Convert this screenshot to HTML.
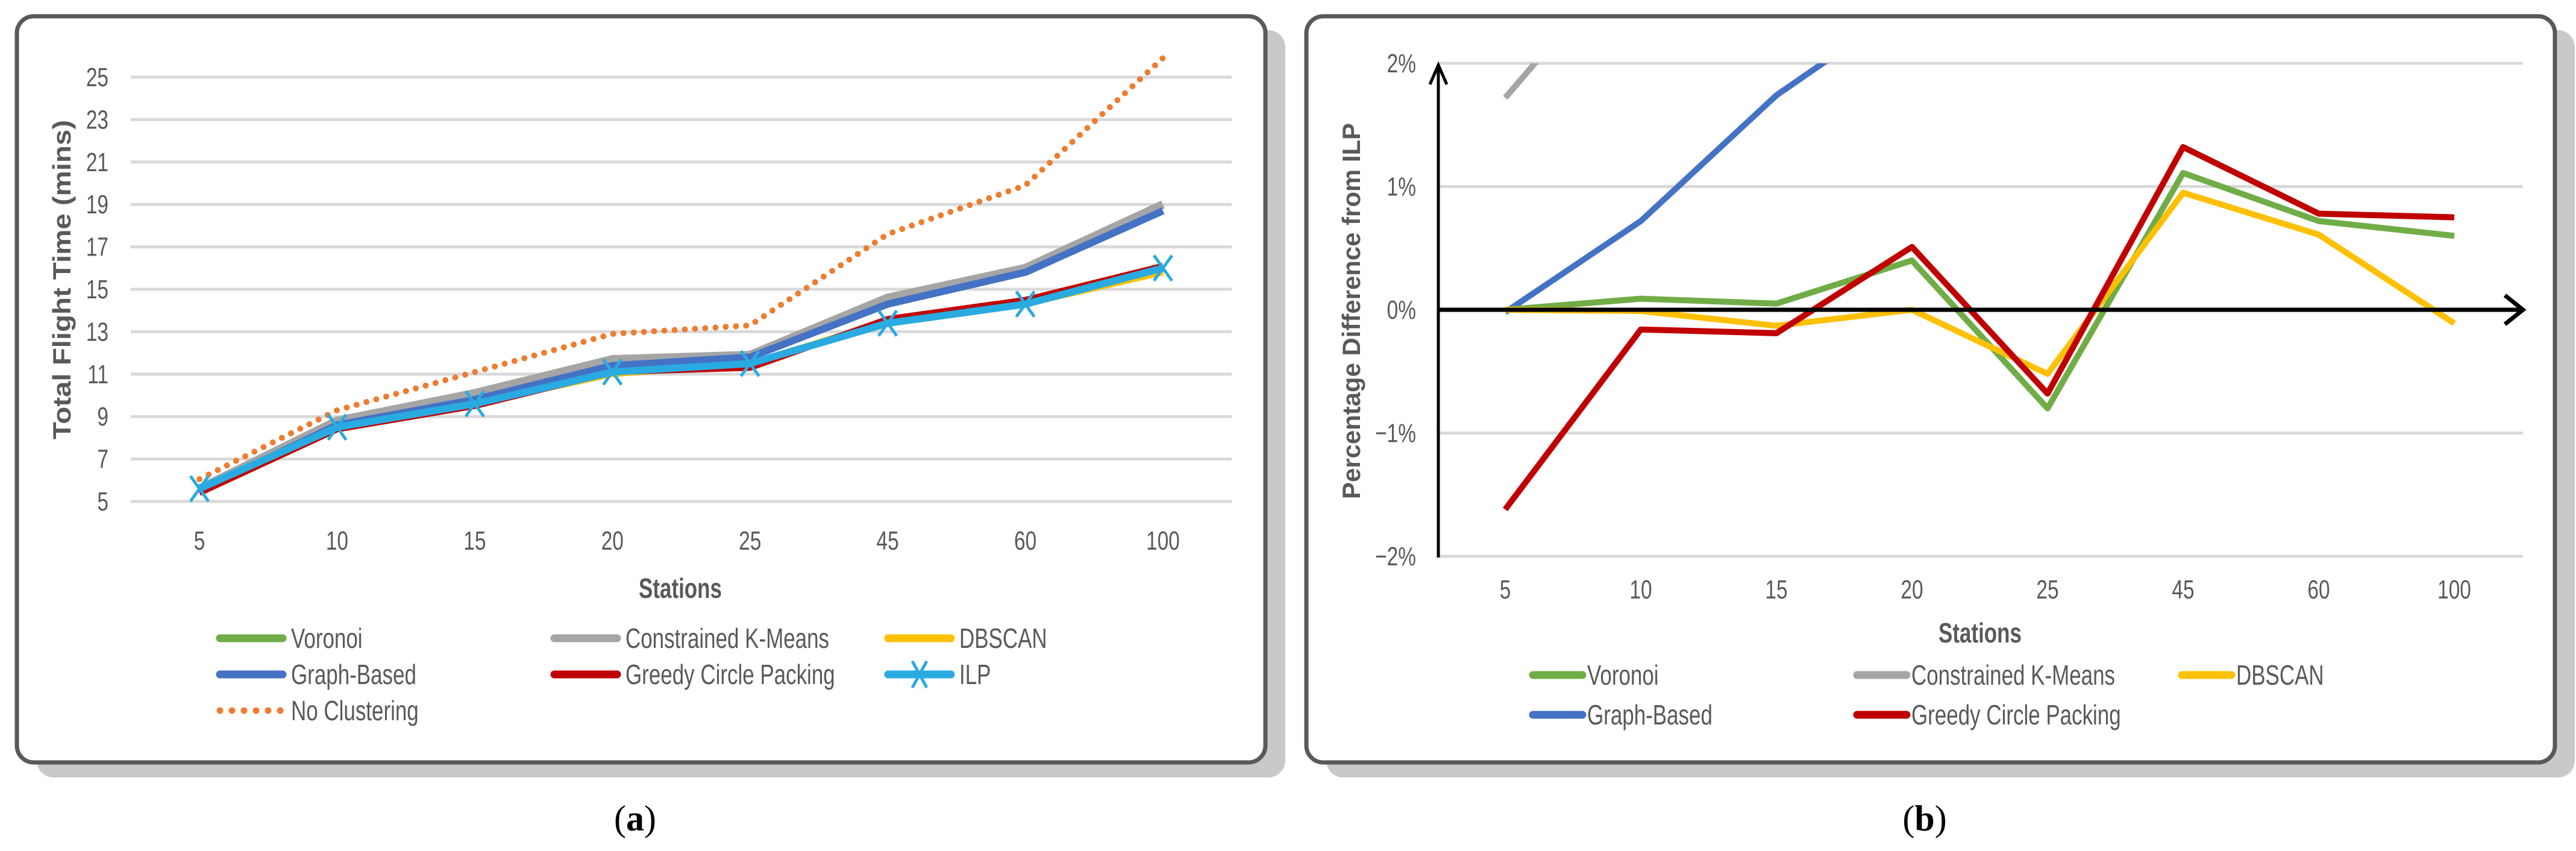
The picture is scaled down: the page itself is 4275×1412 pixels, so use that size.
<!DOCTYPE html>
<html><head><meta charset="utf-8">
<style>
html,body{margin:0;padding:0;background:#fff;}
svg{display:block;}
text{font-family:"Liberation Sans Narrow","Liberation Sans",sans-serif;fill:#595959;}
.tick{font-size:44px;}
.leg{font-size:46px;}
.ttl{font-size:46px;font-weight:bold;}
.ytl{font-family:"Liberation Sans",sans-serif;font-size:42px;font-weight:bold;}
.cap{font-family:"Liberation Serif",serif;font-size:60px;fill:#000;}
</style></head>
<body>
<svg id="fig" width="4275" height="1412" viewBox="0 0 4275 1412" xmlns="http://www.w3.org/2000/svg">
<defs>
<clipPath id="clipA"><rect x="217" y="60" width="1827" height="800"/></clipPath>
<clipPath id="clipB"><rect x="2387" y="105" width="1800" height="818"/></clipPath>
</defs>
<rect x="61" y="50" width="2072" height="1240" rx="28" fill="#c9c9cb"/>
<rect x="28" y="27" width="2072" height="1238" rx="28" fill="#fff" stroke="#595959" stroke-width="7"/>
<rect x="2201" y="50" width="2072" height="1240" rx="28" fill="#c9c9cb"/>
<rect x="2168" y="27" width="2072" height="1238" rx="28" fill="#fff" stroke="#595959" stroke-width="7"/>
<g id="A"></g>
<g id="B"></g>
<text class="cap" x="1054" y="1378" text-anchor="middle">(<tspan font-weight="bold">a</tspan>)</text>
<text class="cap" x="3194" y="1378" text-anchor="middle">(<tspan font-weight="bold">b</tspan>)</text>
</svg>
<script>
const categories = ["5","10","15","20","25","45","60","100"];
// Panel (a) total flight time (mins)
const aVoronoi = [5.6,8.5,9.6,11.1,11.5,13.5,14.4,15.9];
const aKMeans = [5.6,8.8,10.1,11.7,11.9,14.6,16.0,19.0];
const aDBSCAN = [5.6,8.5,9.6,11.0,11.5,13.5,14.3,15.8];
const aGraph = [5.5,8.6,9.8,11.4,11.8,14.3,15.8,18.7];
const aGreedy = [5.4,8.4,9.5,11.1,11.3,13.6,14.5,16.1];
const aILP = [5.6,8.5,9.6,11.1,11.5,13.4,14.3,16.0];
const aNoClust = [6.05,9.3,11.1,12.9,13.3,17.6,19.9,25.9];
const aTicks = [5,7,9,11,13,15,17,19,21,23,25];
// Panel (b) percentage difference from ILP
const bVoronoi = [0,0.09,0.05,0.4,-0.8,1.11,0.72,0.6];
const bKMeans = [1.72,3.0,4.0,5.0,3.0,9.0,12.0,19.0];
const bDBSCAN = [0,-0.01,-0.13,0,-0.52,0.95,0.61,-0.11];
const bGraph = [-0.02,0.72,1.74,2.5,2.6,6.7,10.5,16.9];
const bGreedy = [-1.62,-0.16,-0.19,0.51,-0.68,1.32,0.78,0.75];
const bTicks = [-2,-1,0,1,2];

const NS="http://www.w3.org/2000/svg";
const SX=0.76;
function mk(parent,tag,attrs,txt){const e=document.createElementNS(NS,tag);for(const k in attrs)e.setAttribute(k,attrs[k]);if(txt!==undefined)e.textContent=txt;parent.appendChild(e);return e;}
function ntext(parent,cls,x,y,anchor,s){
  return mk(parent,'text',{class:cls,x:0,y:0,'text-anchor':anchor,transform:`translate(${x},${y}) scale(${SX},1)`},s);
}

// ---------- Panel A ----------
const A=document.getElementById('A');
const axL=217, axR=2044, x0A=331, dxA=(1930-331)/7;
const xA=i=>x0A+i*dxA;
const yA=v=>832-(v-5)*35.2;
aTicks.forEach(t=>{
  const g=mk(A,'line',{x1:axL,x2:axR,y1:yA(t),y2:yA(t),stroke:'#d9d9d9','stroke-width':5});
  
  
  const l=ntext(A,'tick',180,yA(t)+15,'end',String(t));
  
  
});
categories.forEach((c,i)=>{
  const l=ntext(A,'tick',xA(i),912,'middle',c);
  
  
});
const plotA=mk(A,'g',{'clip-path':'url(#clipA)'});


function lineA(vals,color,w,name,extra){
  const p=mk(plotA,'polyline',Object.assign({points:vals.map((v,i)=>xA(i)+','+yA(v)).join(' '),fill:'none',stroke:color,'stroke-width':w,'stroke-linejoin':'round'},extra||{}));
  
  
  return p;
}
lineA(aNoClust,'#ed7d31',10,'series-no-clustering',{'stroke-dasharray':'0 17','stroke-linecap':'round'});
lineA(aKMeans,'#a5a5a5',14,'series-constrained-kmeans');
lineA(aGraph,'#4472c4',12,'series-graph-based');
lineA(aVoronoi,'#70ad47',10,'series-voronoi');
lineA(aDBSCAN,'#ffc000',10,'series-dbscan');
lineA(aGreedy,'#c00000',10,'series-greedy');
lineA(aILP,'#29abe2',12,'series-ilp');
aILP.forEach((v,i)=>{
  const cx=xA(i),cy=yA(v),s=15;
  const m=mk(plotA,'path',{d:`M${cx-s} ${cy-s*1.4}L${cx+s} ${cy+s*1.4}M${cx+s} ${cy-s*1.4}L${cx-s} ${cy+s*1.4}`,stroke:'#29abe2','stroke-width':5,fill:'none'});
  
  
});
const tA=ntext(A,'ttl',1129,992,'middle','Stations');


mk(A,'text',{class:'ytl',x:0,y:0,'text-anchor':'middle',textLength:530,lengthAdjust:'spacingAndGlyphs',transform:'translate(117,464) rotate(-90)',},'Total Flight Time (mins)');

const legA=[["Voronoi","#70ad47",359,1059],["Constrained K-Means","#a5a5a5",914,1059],["DBSCAN","#ffc000",1468,1059],
["Graph-Based","#4472c4",359,1119],["Greedy Circle Packing","#c00000",914,1119],["ILP","#29abe2",1468,1119],["No Clustering","#ed7d31",359,1179]];
legA.forEach(([n,c,x,y])=>{
  const g=mk(A,'g',{});
  
  
  if(n==='No Clustering') mk(g,'line',{x1:x+6,x2:x+112,y1:y,y2:y,stroke:c,'stroke-width':11,'stroke-linecap':'round','stroke-dasharray':'0 20'});
  else mk(g,'line',{x1:x+6,x2:x+110,y1:y,y2:y,stroke:c,'stroke-width':13,'stroke-linecap':'round'});
  if(n==='ILP'){mk(g,'path',{d:`M${x+46} ${y-22}L${x+70} ${y+22}M${x+70} ${y-22}L${x+46} ${y+22}`,stroke:c,'stroke-width':5});}
  ntext(g,'leg',x+124,y+16,'start',n);
});

// ---------- Panel B ----------
const B=document.getElementById('B');
const bL=2387,bR=4187,x0B=2498,dxB=(4073-2498)/7;
const xB=i=>x0B+i*dxB;
const yB=v=>514-v*204.5;
bTicks.forEach(t=>{
  if(t!==0){const g=mk(B,'line',{x1:bL,x2:bR,y1:yB(t),y2:yB(t),stroke:'#d9d9d9','stroke-width':5});
  
  }
  const l=ntext(B,'tick',2350,yB(t)+15,'end',(t<0?'\u2212':'')+Math.abs(t)+'%');
  
  
});
categories.forEach((c,i)=>{
  const l=ntext(B,'tick',xB(i),993,'middle',c);
  
  
});
const plotB=mk(B,'g',{'clip-path':'url(#clipB)'});


function lineB(vals,color,name){
  const p=mk(plotB,'polyline',{points:vals.map((v,i)=>xB(i)+','+yB(v)).join(' '),fill:'none',stroke:color,'stroke-width':10,'stroke-linejoin':'round'});
  
  
}
lineB(bKMeans,'#a5a5a5','series-b-constrained-kmeans');
lineB(bGraph,'#4472c4','series-b-graph-based');
lineB(bVoronoi,'#70ad47','series-b-voronoi');
lineB(bDBSCAN,'#ffc000','series-b-dbscan');
lineB(bGreedy,'#c00000','series-b-greedy');
mk(B,'path',{d:`M${bL} 925 L${bL} 108 M${bL-14} 140 L${bL} 108 L${bL+14} 140`,stroke:'#000','stroke-width':5,fill:'none',});
mk(B,'path',{d:`M${bL} ${yB(0)} L${bR} ${yB(0)} M${bR-30} ${yB(0)-24} L${bR} ${yB(0)} L${bR-30} ${yB(0)+24}`,stroke:'#000','stroke-width':7,fill:'none',});
const tB=ntext(B,'ttl',3286,1066,'middle','Stations');


mk(B,'text',{class:'ytl',x:0,y:0,'text-anchor':'middle',textLength:624,lengthAdjust:'spacingAndGlyphs',transform:'translate(2257,516) rotate(-90)',},'Percentage Difference from ILP');
const legB=[["Voronoi","#70ad47",2538,1120],["Constrained K-Means","#a5a5a5",3076,1120],["DBSCAN","#ffc000",3615,1120],
["Graph-Based","#4472c4",2538,1186],["Greedy Circle Packing","#c00000",3076,1186]];
legB.forEach(([n,c,x,y])=>{
  const g=mk(B,'g',{});
  
  
  mk(g,'line',{x1:x+6,x2:x+88,y1:y,y2:y,stroke:c,'stroke-width':13,'stroke-linecap':'round'});
  ntext(g,'leg',x+96,y+16,'start',n);
});
</script>
</body></html>
